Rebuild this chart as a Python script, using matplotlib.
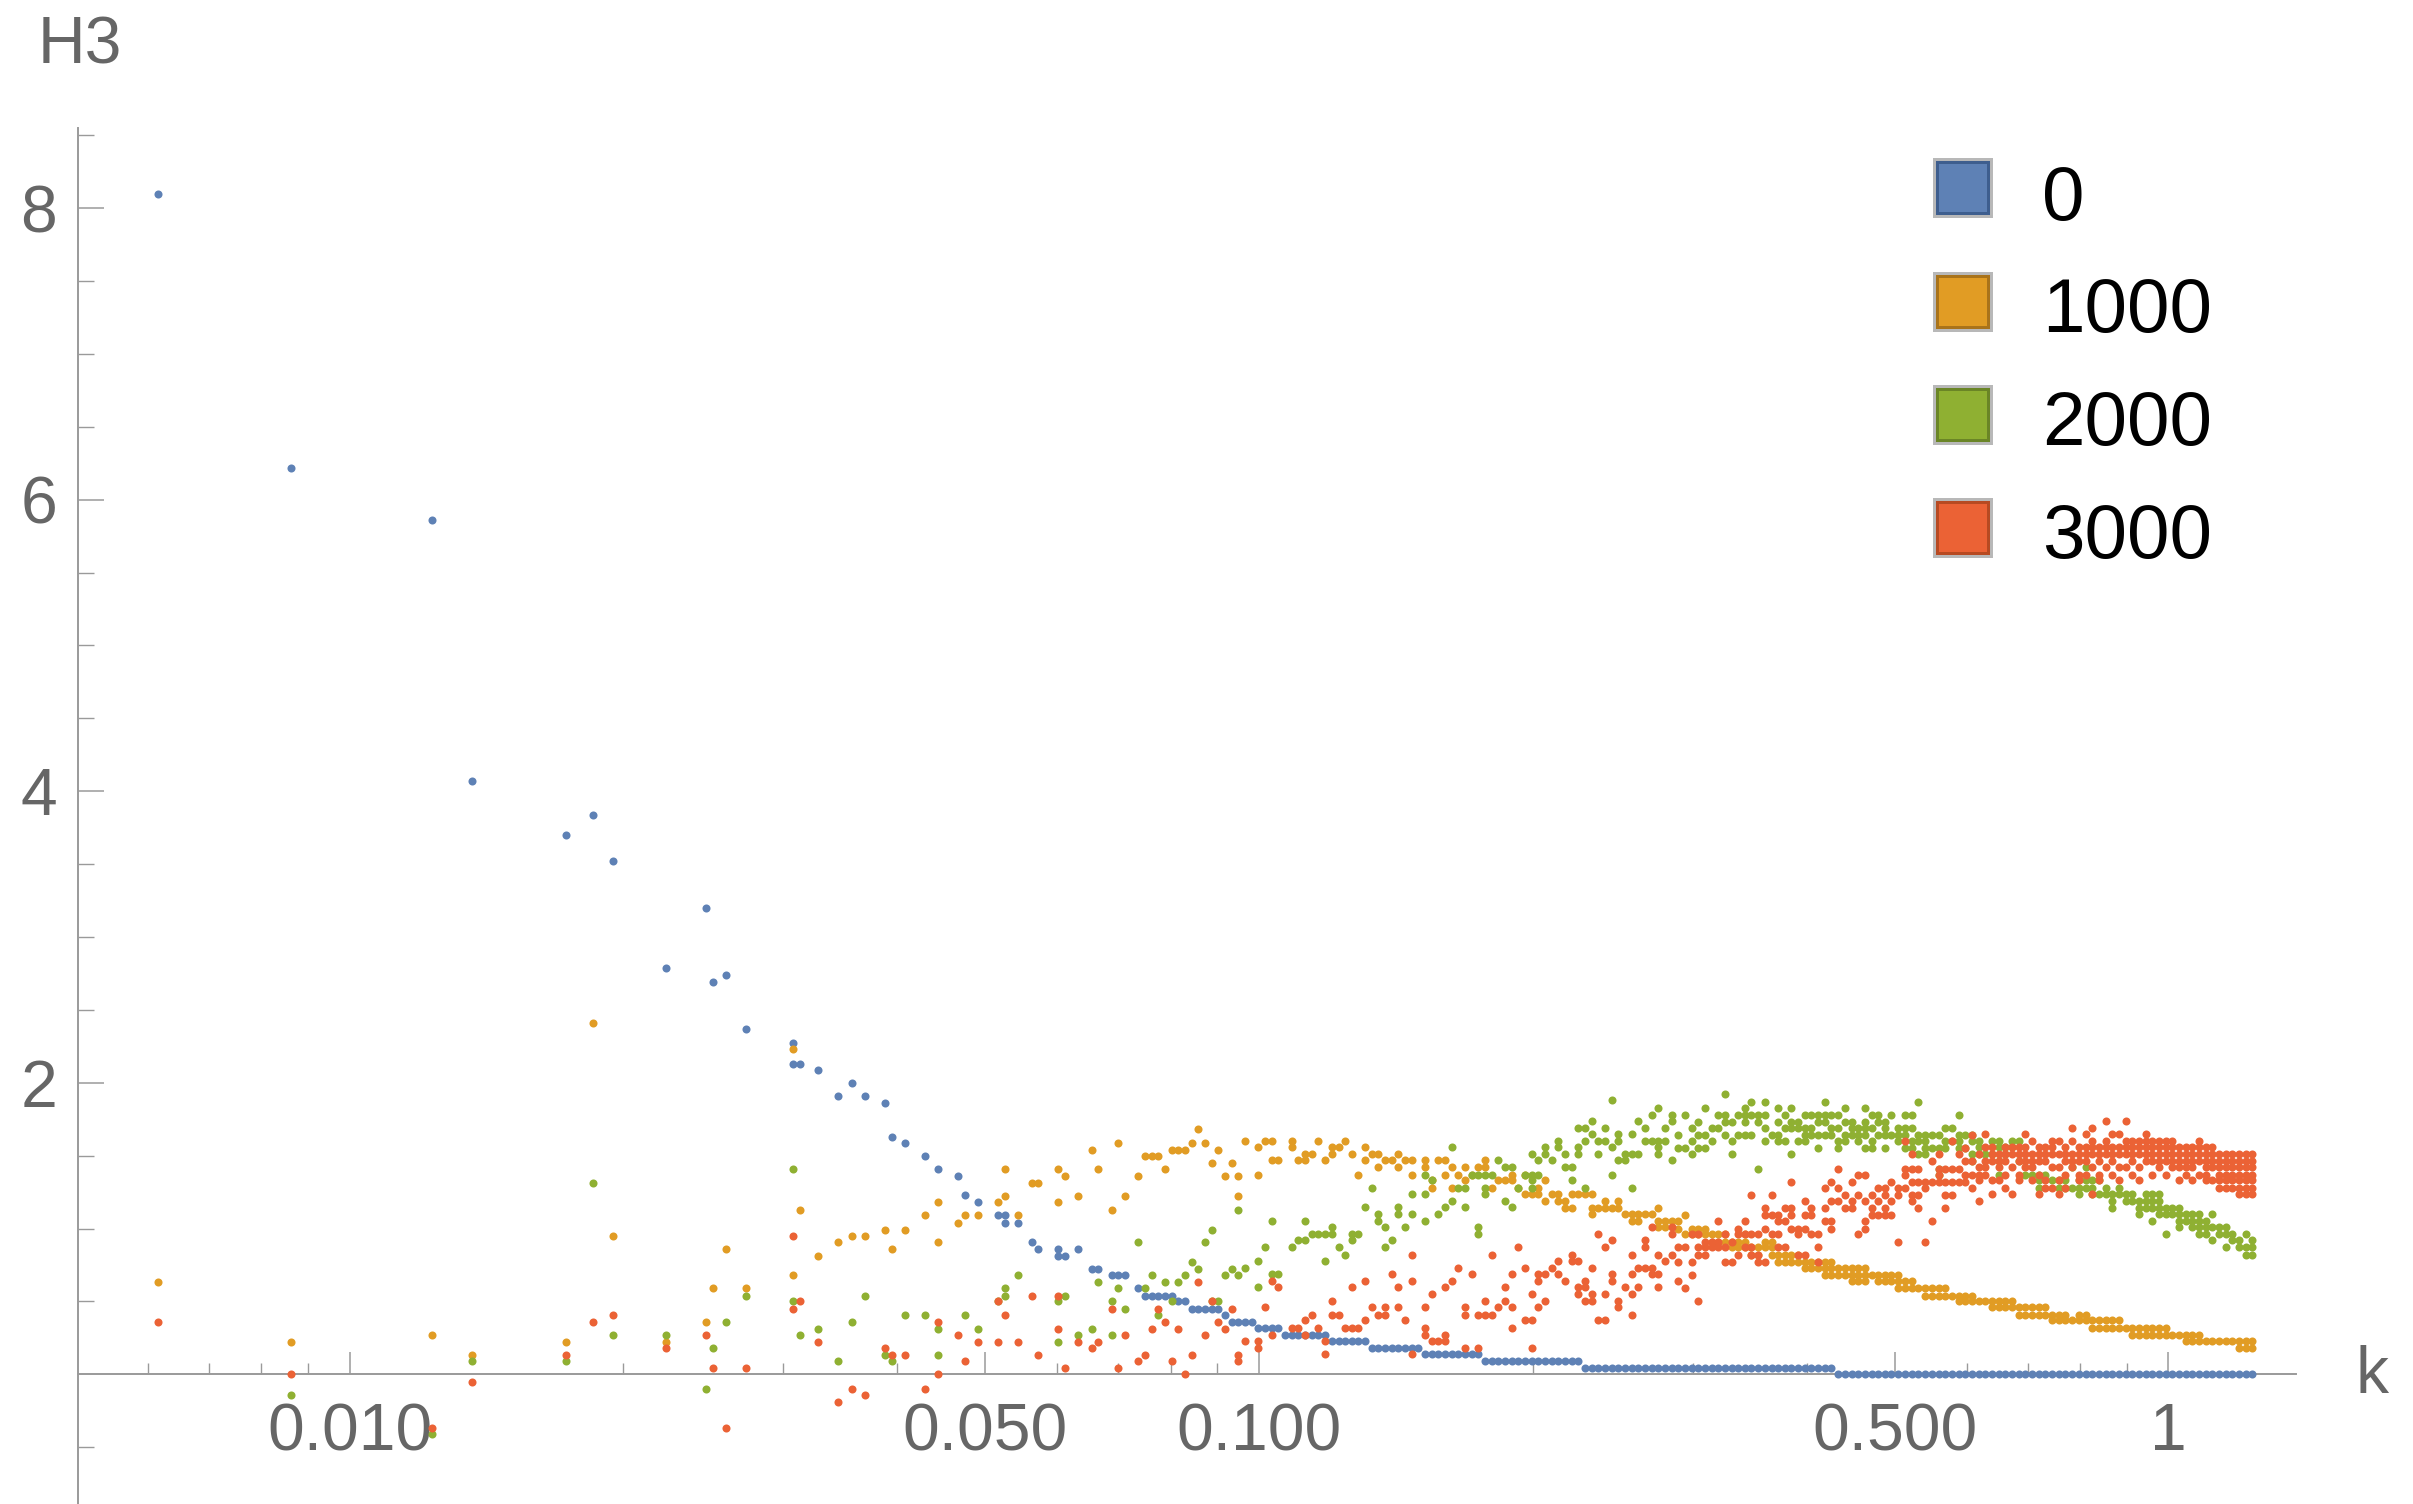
import matplotlib.pyplot as plt
from matplotlib.patches import Rectangle
from matplotlib.ticker import FixedLocator, NullFormatter

plt.rcParams['font.family'] = ['Liberation Sans', 'DejaVu Sans']

W, H = 2413, 1504

# sparse low-k shells (one column per k, several points allowed)
k_low = [0.00616, 0.00863, 0.01233, 0.01365, 0.01729, 0.01850, 0.01948, 0.02228, 0.02467, 0.02508,
         0.02596, 0.02729, 0.03070, 0.03125, 0.03276, 0.03446, 0.03564, 0.03687, 0.03878, 0.03944,
         0.04080, 0.04291, 0.04439, 0.04669, 0.04748, 0.04912, 0.05167, 0.05255, 0.05435, 0.05622,
         0.05718, 0.06015, 0.06117, 0.06328, 0.06545, 0.06656, 0.06885, 0.07002, 0.07122, 0.07366,
         0.07492, 0.07619, 0.07749, 0.07881, 0.08015, 0.08152, 0.08291, 0.08432, 0.08576, 0.08722,
         0.08870, 0.09021, 0.09175, 0.09331, 0.09490]

h3_t0_low = [[8.10], [6.22], [5.86], [4.07], [3.70], [3.84], [3.52], [2.79], [3.20], [2.69],
             [2.74], [2.37], [2.27, 2.13], [2.13], [2.09], [1.91], [2.00], [1.91], [1.86], [1.63],
             [1.59], [1.50], [1.41], [1.36], [1.23], [1.18], [1.09], [1.09, 1.04], [1.04], [0.91],
             [0.86], [0.86, 0.81], [0.81], [0.86], [0.72], [0.72], [0.68], [0.68], [0.68], [0.59],
             [0.54], [0.54], [0.54], [0.54], [0.54], [0.50], [0.50], [0.45], [0.45], [0.45],
             [0.45], [0.45], [0.41], [0.36], [0.36]]

h3_t1000_low = [[0.63], [0.22], [0.27], [0.13], [0.22], [2.41], [0.95], [0.22], [0.36], [0.59],
                [0.86], [0.59], [2.23, 0.68], [1.13], [0.81], [0.91], [0.95], [0.95], [0.99], [0.86],
                [0.99], [1.09], [1.18, 0.91], [1.04], [1.09], [1.09], [1.18], [1.41, 1.22], [1.09], [1.31],
                [1.31], [1.41, 1.18], [1.36], [1.22], [1.54], [1.41], [1.13], [1.59], [1.22], [1.36],
                [1.50], [1.50], [1.50], [1.41], [1.54], [1.54], [1.54], [1.59], [1.68], [1.59],
                [1.45], [1.54], [1.36], [1.45], [1.36, 1.22]]

h3_t2000_low = [[], [-0.14], [-0.41], [0.09], [0.09], [1.31], [0.27], [0.27], [-0.10], [0.18],
                [0.36], [0.54], [1.41, 0.50], [0.27], [0.31], [0.09], [0.36], [0.54], [0.13], [0.09],
                [0.41], [0.41], [0.31, 0.13], [], [0.41], [0.31], [0.50], [0.59, 0.54], [0.68], [],
                [], [0.50, 0.22], [0.54], [0.27], [0.31], [0.63], [0.50, 0.27], [0.59], [0.45], [0.91],
                [0.59], [0.68], [0.41], [0.63], [0.50], [0.63], [0.68], [0.77], [0.72], [0.91],
                [0.99, 0.50], [0.50], [0.68], [0.72], [1.13, 0.68]]

h3_t3000_low = [[0.36], [0.00], [-0.37], [-0.05], [0.13], [0.36], [0.41], [0.18], [0.27], [0.04],
                [-0.37], [0.04], [0.95, 0.45], [0.50], [0.22], [-0.19], [-0.10], [-0.14], [0.18], [0.13],
                [0.13], [-0.10], [0.36, 0.00], [0.27], [0.09], [0.22], [0.50, 0.22], [0.41], [0.22], [0.54],
                [0.13], [0.54, 0.31], [0.04], [0.22], [0.18], [0.22], [0.45], [0.04], [0.27], [0.09],
                [0.13], [0.31], [0.45], [0.36], [0.09], [0.31], [0.00], [0.13], [0.63], [0.27],
                [0.50], [0.36], [0.31], [0.45], [0.13, 0.09]]

# dense shells from k ~ 0.1 up to the cutoff
k_dense = [0.09652, 0.09816, 0.09984, 0.1015, 0.1033, 0.1050, 0.1068, 0.1086, 0.1105, 0.1124,
           0.1143, 0.1162, 0.1182, 0.1202, 0.1223, 0.1243, 0.1265, 0.1286, 0.1308, 0.1330,
           0.1353, 0.1376, 0.1399, 0.1423, 0.1447, 0.1472, 0.1497, 0.1523, 0.1548, 0.1575,
           0.1601, 0.1629, 0.1656, 0.1684, 0.1713, 0.1742, 0.1772, 0.1802, 0.1833, 0.1864,
           0.1896, 0.1928, 0.1961, 0.1994, 0.2028, 0.2063, 0.2098, 0.2133, 0.2170, 0.2207,
           0.2244, 0.2282, 0.2321, 0.2361, 0.2401, 0.2442, 0.2483, 0.2525, 0.2568, 0.2612,
           0.2656, 0.2702, 0.2748, 0.2794, 0.2842, 0.2890, 0.2939, 0.2989, 0.3040, 0.3092,
           0.3145, 0.3198, 0.3252, 0.3308, 0.3364, 0.3421, 0.3479, 0.3539, 0.3599, 0.3660,
           0.3722, 0.3786, 0.3850, 0.3916, 0.3982, 0.4050, 0.4119, 0.4189, 0.4260, 0.4333,
           0.4407, 0.4482, 0.4558, 0.4636, 0.4715, 0.4795, 0.4876, 0.4959, 0.5044, 0.5130,
           0.5220, 0.5310, 0.5401, 0.5493, 0.5587, 0.5682, 0.5779, 0.5878, 0.5978, 0.6080,
           0.6184, 0.6289, 0.6397, 0.6506, 0.6617, 0.6730, 0.6845, 0.6961, 0.7080, 0.7201,
           0.7323, 0.7448, 0.7575, 0.7704, 0.7836, 0.7970, 0.8106, 0.8244, 0.8384, 0.8527,
           0.8673, 0.8820, 0.8971, 0.9124, 0.9280, 0.9438, 0.9599, 0.9763, 0.9929, 1.0099,
           1.0265, 1.0440, 1.0618, 1.0799, 1.0983, 1.1170, 1.1361, 1.1555, 1.1752, 1.1952,
           1.2156, 1.2360]

h3_t0_dense = [0.36, 0.36, 0.32, 0.32, 0.32, 0.32, 0.27, 0.27, 0.27, 0.27,
               0.27, 0.27, 0.27, 0.23, 0.23, 0.23, 0.23, 0.23, 0.23, 0.18,
               0.18, 0.18, 0.18, 0.18, 0.18, 0.18, 0.18, 0.14, 0.14, 0.14,
               0.14, 0.14, 0.14, 0.14, 0.14, 0.14, 0.09, 0.09, 0.09, 0.09,
               0.09, 0.09, 0.09, 0.09, 0.09, 0.09, 0.09, 0.09, 0.09, 0.09,
               0.09, 0.04, 0.04, 0.04, 0.04, 0.04, 0.04, 0.04, 0.04, 0.04,
               0.04, 0.04, 0.04, 0.04, 0.04, 0.04, 0.04, 0.04, 0.04, 0.04,
               0.04, 0.04, 0.04, 0.04, 0.04, 0.04, 0.04, 0.04, 0.04, 0.04,
               0.04, 0.04, 0.04, 0.04, 0.04, 0.04, 0.04, 0.04, 0.04, 0.00,
               0.00, 0.00, 0.00, 0.00, 0.00, 0.00, 0.00, 0.00, 0.00, 0.00,
               0.00, 0.00, 0.00, 0.00, 0.00, 0.00, 0.00, 0.00, 0.00, 0.00,
               0.00, 0.00, 0.00, 0.00, 0.00, 0.00, 0.00, 0.00, 0.00, 0.00,
               0.00, 0.00, 0.00, 0.00, 0.00, 0.00, 0.00, 0.00, 0.00, 0.00,
               0.00, 0.00, 0.00, 0.00, 0.00, 0.00, 0.00, 0.00, 0.00, 0.00,
               0.00, 0.00, 0.00, 0.00, 0.00, 0.00, 0.00, 0.00, 0.00, 0.00,
               0.00, 0.00]

h3_t1000_dense = [
    [1.60], [], [1.56, 1.37], [1.60], [1.60, 1.47], [1.47], [], [1.60, 1.56], [1.47], [1.51, 1.47],
    [1.51], [1.60], [1.47], [1.56, 1.51], [1.56], [1.60], [1.51], [1.37], [1.56, 1.47], [1.51],
    [1.51, 1.42], [1.47], [1.47], [1.51, 1.42], [1.47], [1.47, 1.37], [], [1.47, 1.42], [1.33, 1.28], [1.47],
    [1.47, 1.37], [1.42, 1.28], [1.37], [1.42, 1.33], [1.37], [1.42], [1.47, 1.42], [1.28], [1.33], [1.33],
    [1.37, 1.33], [1.28], [1.37, 1.24], [1.24], [1.28, 1.24], [1.33, 1.19], [1.24], [1.24, 1.19], [1.19, 1.14], [1.24, 1.14],
    [1.24], [1.24], [1.24, 1.14, 1.10], [1.14], [1.19, 1.14], [1.14], [1.19, 1.14], [1.10], [1.10, 1.05], [1.10, 1.05],
    [1.10], [1.10], [1.14, 1.05, 1.01], [1.05, 1.01], [1.05], [1.05, 1.00], [1.09, 0.96], [1.00, 0.96], [1.00, 0.96], [1.00, 0.96],
    [0.96, 0.91], [0.96, 0.91], [0.96, 0.91], [0.91, 0.87], [0.91, 0.87], [0.96, 0.91, 0.87], [0.87, 0.82], [0.87, 0.82], [0.91, 0.87], [0.91, 0.87, 0.82],
    [0.82, 0.77], [0.82, 0.77], [0.82, 0.77], [0.82, 0.77], [0.77, 0.73], [0.77, 0.73], [0.77, 0.73], [0.77, 0.73, 0.68], [0.77, 0.73, 0.68], [0.73, 0.68],
    [0.73, 0.68], [0.73, 0.68, 0.64], [0.73, 0.68, 0.64], [0.73, 0.68, 0.64], [0.68], [0.68, 0.64], [0.68, 0.64], [0.68, 0.64], [0.68, 0.64, 0.59], [0.64, 0.59],
    [0.64, 0.59], [0.59], [0.59, 0.54], [0.59, 0.54], [0.59, 0.54], [0.59, 0.54], [0.54], [0.54, 0.50], [0.54, 0.50], [0.54, 0.50],
    [0.50], [0.50], [0.50, 0.46], [0.50, 0.46], [0.50, 0.46], [0.50, 0.46], [0.46, 0.41], [0.46, 0.41], [0.46, 0.41], [0.46, 0.41],
    [0.46, 0.41], [0.41, 0.37], [0.41, 0.37], [0.41, 0.37], [0.37], [0.41, 0.37], [0.41, 0.37], [0.37, 0.32], [0.37, 0.32], [0.37, 0.32],
    [0.37, 0.32], [0.37, 0.32], [0.32], [0.32, 0.27], [0.32, 0.27], [0.32, 0.27], [0.32, 0.27], [0.32, 0.27], [0.32, 0.27], [0.27],
    [0.27], [0.27, 0.23], [0.27, 0.23], [0.27, 0.23], [0.23], [0.23], [0.23], [0.23], [0.23], [0.23, 0.18],
    [0.23, 0.18], [0.23, 0.18]]

h3_t2000_dense = [
    [0.73], [], [0.78, 0.60], [0.87], [1.05, 0.69], [0.69], [], [0.87], [0.92], [1.05, 0.92],
    [0.96], [0.96], [0.96, 0.78], [1.01, 0.96], [0.87], [0.82], [0.96, 0.92], [0.96], [1.15], [1.28],
    [1.10, 1.05], [1.01, 0.87], [0.92], [1.15, 1.10], [1.01], [1.24, 1.10], [], [1.37, 1.24, 1.05], [1.33], [1.10],
    [1.15], [1.56, 1.19], [1.28], [1.28, 1.15], [1.37], [1.37, 1.01, 0.96], [1.37, 1.28, 1.24], [1.37], [1.47], [1.42, 1.19],
    [1.42, 1.15], [1.28], [1.37], [1.51, 1.37, 1.33, 1.28], [1.47, 1.37], [1.56, 1.51], [1.47], [1.60, 1.56], [1.51, 1.42], [1.42, 1.33],
    [1.69, 1.56, 1.51], [1.69, 1.60, 1.28], [1.74, 1.65], [1.60, 1.51], [1.69, 1.60], [1.88, 1.56, 1.37], [1.65, 1.60, 1.47], [1.51, 1.47], [1.65, 1.51, 1.28], [1.74, 1.51],
    [1.69, 1.60], [1.78, 1.60], [1.83, 1.60, 1.56, 1.51], [1.69, 1.60], [1.78, 1.74, 1.47], [1.64, 1.55], [1.78, 1.55], [1.69, 1.60, 1.51], [1.73, 1.64, 1.55], [1.83, 1.64, 1.55],
    [1.69, 1.60], [1.78, 1.69], [1.92, 1.78, 1.73, 1.64], [1.73, 1.60, 1.51], [1.78, 1.64], [1.83, 1.78, 1.73, 1.64], [1.87, 1.78, 1.64], [1.78, 1.73, 1.41], [1.87, 1.78, 1.69, 1.60], [1.64],
    [1.83, 1.73, 1.64, 1.60], [1.78, 1.69, 1.60], [1.83, 1.73, 1.69, 1.51], [1.73, 1.69, 1.60], [1.78, 1.69, 1.64, 1.60], [1.78, 1.69, 1.64], [1.78, 1.73, 1.64, 1.55], [1.87, 1.78, 1.73, 1.64], [1.78, 1.69, 1.64], [1.78, 1.69, 1.60, 1.55],
    [1.83, 1.73, 1.64, 1.60], [1.73, 1.69, 1.64], [1.69, 1.64, 1.60], [1.83, 1.73, 1.69, 1.64, 1.55], [1.78, 1.69, 1.60, 1.55], [1.78, 1.73, 1.64], [1.73, 1.69, 1.64, 1.55], [1.78, 1.64], [1.69, 1.64, 1.60], [1.78, 1.69, 1.64, 1.55],
    [1.78, 1.69, 1.60, 1.55], [1.87, 1.64, 1.60, 1.51], [1.64, 1.60, 1.55, 1.51], [1.64, 1.55], [1.64, 1.55, 1.41, 1.37], [1.69, 1.60, 1.55], [1.69, 1.60], [1.78, 1.64, 1.60, 1.55], [1.64, 1.55], [1.64, 1.60, 1.51, 1.46],
    [1.60, 1.56, 1.51], [1.51], [1.60, 1.51], [1.60, 1.56, 1.46, 1.37], [1.56, 1.51], [1.60, 1.56], [1.60, 1.46], [1.37], [1.37], [1.37, 1.33, 1.28],
    [1.37], [1.33], [1.33, 1.28], [1.33, 1.28], [1.42, 1.28], [1.33, 1.28, 1.24], [1.42, 1.33, 1.28], [1.33, 1.28, 1.24], [1.33, 1.24], [1.28, 1.24],
    [1.24, 1.19, 1.14], [1.28, 1.24], [1.24, 1.19], [1.24, 1.19], [1.19, 1.14, 1.10], [1.24, 1.19, 1.14], [1.24, 1.19, 1.14, 1.05], [1.24, 1.19, 1.14, 1.10], [1.14, 1.10, 0.96], [1.14, 1.10],
    [1.14, 1.10, 1.05, 1.01], [1.10, 1.05], [1.10, 1.05, 1.01], [1.10, 1.05, 1.01, 0.96], [1.05, 1.01, 0.96], [1.10, 1.01, 0.92], [1.01, 0.96], [1.01, 0.96, 0.87], [0.96, 0.92], [0.92, 0.87],
    [0.96, 0.87, 0.82], [0.92, 0.87, 0.82]]

h3_t3000_dense = [
    [0.23], [], [0.23, 0.18], [0.46], [0.64, 0.27], [0.60], [], [0.32], [0.32], [0.37, 0.27],
    [0.41], [0.32], [0.23, 0.14], [0.50, 0.41], [0.41], [0.32], [0.60, 0.32], [0.32], [0.64, 0.37], [0.46],
    [0.41], [0.46, 0.41], [0.69], [0.60, 0.46], [0.37], [0.82, 0.64, 0.14], [], [0.46, 0.32, 0.27], [0.55, 0.23], [0.23],
    [0.60, 0.27, 0.23], [0.64], [0.73], [0.46, 0.41, 0.18], [0.69], [0.41, 0.18], [0.50, 0.41], [0.82, 0.41], [0.46], [0.60, 0.50],
    [0.69, 0.46, 0.32], [0.87], [0.73, 0.37], [0.55, 0.37, 0.18], [0.69, 0.64, 0.46], [0.69, 0.50], [0.73], [0.78, 0.69], [0.64], [0.82, 0.78],
    [0.78, 0.60, 0.55], [0.64, 0.60, 0.50], [0.73, 0.55, 0.50], [0.96, 0.37], [0.87, 0.55, 0.37], [0.92, 0.69, 0.64], [0.50, 0.46], [0.60], [0.82, 0.69, 0.55, 0.41], [0.73, 0.60],
    [0.92, 0.87, 0.73], [1.01, 0.73, 0.69], [0.82, 0.69, 0.60], [0.78], [1.01, 0.96, 0.82], [0.87, 0.77, 0.64], [0.87, 0.59], [0.96, 0.77, 0.68], [0.96, 0.87, 0.82, 0.50], [0.91, 0.87, 0.82],
    [0.91, 0.87], [1.05, 0.91, 0.87], [0.96, 0.87, 0.77], [0.91, 0.77], [1.00, 0.96, 0.82], [1.05, 0.96, 0.87], [1.23, 0.96, 0.87, 0.82], [0.96, 0.82, 0.77], [1.14, 1.09, 1.00, 0.77], [1.23, 1.09, 0.96],
    [1.09, 1.05, 0.96, 0.87], [1.14, 1.05, 0.87], [1.32, 1.14, 1.09, 1.00], [1.00, 0.96, 0.82], [1.19, 1.09, 1.00, 0.82], [1.14, 1.09, 0.96], [0.96, 0.87, 0.77], [1.28, 1.14, 1.05], [1.32, 1.19, 1.05, 1.00], [1.41, 1.28, 1.19],
    [1.23, 1.14], [1.32, 1.19, 1.14], [1.37, 1.23, 0.96], [1.37, 1.19, 1.05, 1.00], [1.23, 1.14, 1.09], [1.28, 1.19, 1.09], [1.28, 1.23, 1.14, 1.09], [1.32, 1.19, 1.09], [1.28, 1.23, 0.91], [1.60, 1.41, 1.37, 1.28],
    [1.51, 1.41, 1.32, 1.23, 1.19], [1.41, 1.32, 1.23, 1.14], [1.32, 1.28, 0.91], [1.46, 1.32, 1.05], [1.51, 1.41, 1.37, 1.32], [1.41, 1.32, 1.23, 1.14], [1.60, 1.41, 1.32, 1.23], [1.51, 1.41, 1.32], [1.55, 1.46, 1.37, 1.32], [1.64, 1.46, 1.37, 1.28],
    [1.51, 1.42, 1.37, 1.33, 1.19], [1.65, 1.56, 1.46, 1.42, 1.37], [1.56, 1.51, 1.46, 1.33, 1.24], [1.51, 1.46, 1.42, 1.33], [1.56, 1.51, 1.46, 1.37, 1.28],
    [1.56, 1.51, 1.42, 1.24], [1.56, 1.51, 1.46, 1.37, 1.33], [1.65, 1.56, 1.51, 1.46, 1.42], [1.60, 1.51, 1.46, 1.42, 1.33], [1.56, 1.51, 1.46, 1.37, 1.24],
    [1.56, 1.51, 1.46, 1.33, 1.28], [1.60, 1.56, 1.51, 1.42, 1.28], [1.60, 1.51, 1.42, 1.33, 1.24], [1.56, 1.51, 1.46, 1.37, 1.28], [1.69, 1.60, 1.51, 1.46, 1.42],
    [1.56, 1.51, 1.46, 1.37, 1.33], [1.65, 1.56, 1.51, 1.46, 1.37], [1.69, 1.60, 1.56, 1.51, 1.42, 1.24], [1.56, 1.51, 1.46, 1.37, 1.33], [1.74, 1.60, 1.56, 1.51, 1.42],
    [1.65, 1.56, 1.51, 1.46, 1.37], [1.65, 1.56, 1.51, 1.42, 1.33], [1.74, 1.60, 1.56, 1.51, 1.42], [1.60, 1.56, 1.51, 1.46, 1.37], [1.60, 1.56, 1.51, 1.42, 1.33],
    [1.65, 1.60, 1.56, 1.51, 1.46], [1.60, 1.56, 1.51, 1.46, 1.37], [1.60, 1.56, 1.51, 1.46, 1.42], [1.60, 1.56, 1.51, 1.46, 1.37], [1.60, 1.56, 1.51, 1.46, 1.42],
    [1.56, 1.51, 1.46, 1.42, 1.33], [1.56, 1.51, 1.46, 1.42, 1.37], [1.56, 1.51, 1.46, 1.42, 1.33], [1.60, 1.56, 1.51, 1.46, 1.37], [1.56, 1.51, 1.46, 1.42, 1.37, 1.33],
    [1.56, 1.51, 1.46, 1.42, 1.33], [1.51, 1.46, 1.42, 1.37, 1.33, 1.28], [1.51, 1.46, 1.42, 1.37, 1.33, 1.28], [1.51, 1.46, 1.42, 1.37, 1.33, 1.28], [1.51, 1.46, 1.42, 1.37, 1.33, 1.28, 1.24],
    [1.51, 1.46, 1.42, 1.37, 1.33, 1.28, 1.24], [1.51, 1.46, 1.42, 1.37, 1.33, 1.28, 1.24]]

labels = ['0', '1000', '2000', '3000']
colors = ['#5E81B5', '#E19C24', '#8FB032', '#EB6235']
edge_colors = ['#3E5E8E', '#A9731A', '#6A8526', '#B74A22']

x_ticks = [0.01, 0.05, 0.1, 0.5, 1]
x_tick_labels = ['0.010', '0.050', '0.100', '0.500', '1']
x_minor = [0.006, 0.007, 0.008, 0.009, 0.02, 0.03, 0.04, 0.06, 0.07, 0.08, 0.09,
           0.2, 0.3, 0.4, 0.6, 0.7, 0.8, 0.9]
y_ticks = [2, 4, 6, 8]
y_minor = [-0.5, 0.5, 1, 1.5, 2.5, 3, 3.5, 4.5, 5, 5.5, 6.5, 7, 7.5, 8.5]


def flatten(ks, cols):
    xs, ys = [], []
    for k, vals in zip(ks, cols):
        for v in vals:
            xs.append(k)
            ys.append(v)
    return xs, ys


def px(x, y):
    # pixel position (top-left origin) -> figure fraction
    return x / W, 1 - y / H


fig = plt.figure(figsize=(W / 100, H / 100), dpi=100)
ax = fig.add_axes([78 / W, 0.0, (2296 - 78) / W, 1 - 128 / H])
ax.set_xscale('log')
ax.set_xlim(0.005028, 1.381)
ax.set_ylim(-0.89, 8.55)

series = [
    (h3_t0_low, [[v] for v in h3_t0_dense]),
    (h3_t1000_low, h3_t1000_dense),
    (h3_t2000_low, h3_t2000_dense),
    (h3_t3000_low, h3_t3000_dense),
]
for z, ((low, dense), c) in enumerate(zip(series, colors)):
    xs, ys = flatten(k_low, low)
    xd, yd = flatten(k_dense, dense)
    ax.plot(xs + xd, ys + yd, 'o', ms=5.8, mew=0, color=c, linestyle='none', zorder=3 + z)

# Mathematica-like axes: x axis through y=0, y axis at the left edge
axis_gray = '#9a9a9a'
for side in ['top', 'right']:
    ax.spines[side].set_visible(False)
ax.spines['bottom'].set_position(('data', 0))
for side in ['bottom', 'left']:
    ax.spines[side].set_color(axis_gray)
    ax.spines[side].set_linewidth(1.4)

ax.xaxis.set_major_locator(FixedLocator(x_ticks))
ax.set_xticklabels(x_tick_labels)
ax.xaxis.set_minor_locator(FixedLocator(x_minor))
ax.xaxis.set_minor_formatter(NullFormatter())
ax.yaxis.set_major_locator(FixedLocator(y_ticks))
ax.yaxis.set_minor_locator(FixedLocator(y_minor))
ax.yaxis.set_minor_formatter(NullFormatter())

ax.tick_params(axis='x', which='major', direction='in', length=15.5, width=1.1,
               color=axis_gray, pad=20, labelsize=47.5, labelcolor='#666666')
ax.tick_params(axis='x', which='minor', direction='in', length=7.7, width=1.0, color=axis_gray)
ax.tick_params(axis='y', which='major', direction='in', length=19, width=1.1,
               color=axis_gray, pad=15, labelsize=47.5, labelcolor='#666666')
ax.tick_params(axis='y', which='minor', direction='in', length=11.3, width=1.0, color=axis_gray)

# axis names
fig.text(*px(38, 63), 'H3', fontsize=47.5, color='#666666', ha='left', va='baseline')
fig.text(*px(2355, 1393), 'k', fontsize=47.5, color='#666666', ha='left', va='baseline')

# legend swatches
sq_tops = [158, 272, 385, 498]
text_base = [220, 332, 445, 558]
for lab, c, ec, top, base in zip(labels, colors, edge_colors, sq_tops, text_base):
    for inset, fc in [(0, '#b8b8b8'), (3, ec), (6, c)]:
        size = 60 - 2 * inset
        x0, y0 = px(1933 + inset, top + inset + size)
        fig.add_artist(Rectangle((x0, y0), size / W, size / H, transform=fig.transFigure,
                                 facecolor=fc, edgecolor='none'))
    fig.text(*px(2042, base), lab, fontsize=55, color='black', ha='left', va='baseline')

fig.savefig('out.png', dpi=100)
plt.close(fig)
